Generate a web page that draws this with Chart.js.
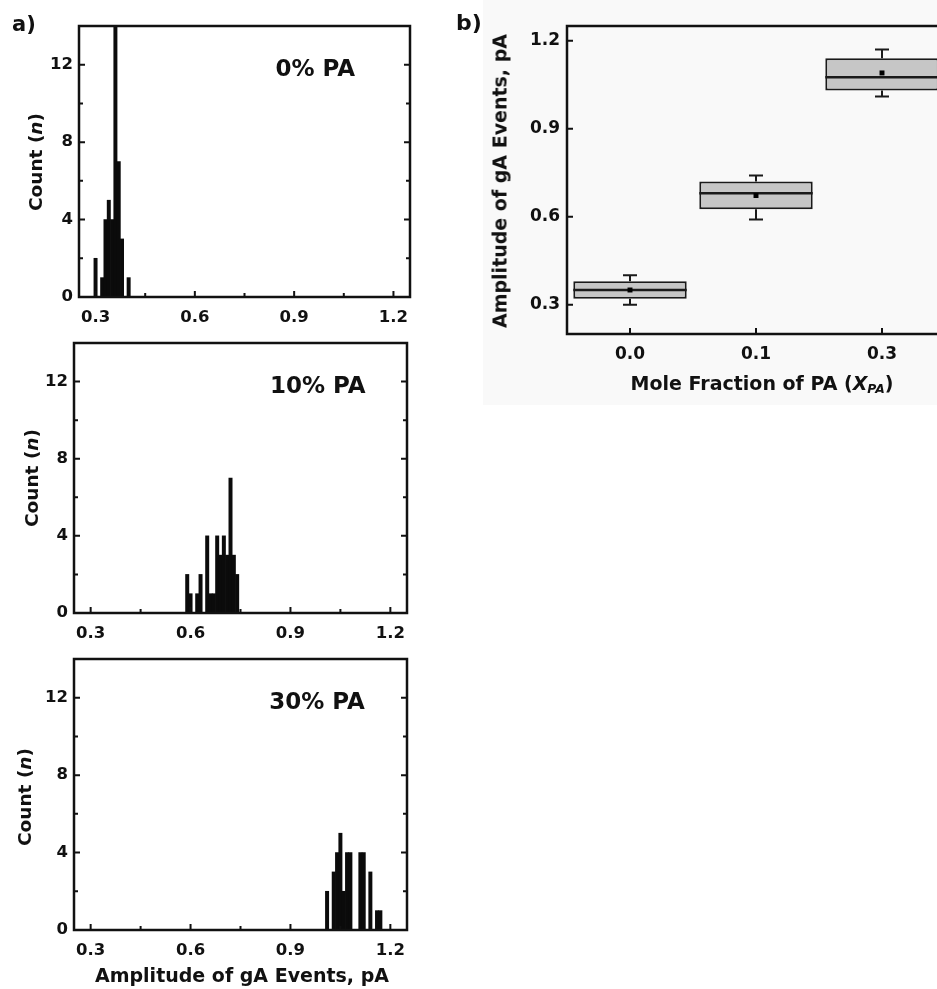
<!DOCTYPE html>
<html>
<head>
<meta charset="utf-8">
<script src="https://cdn.jsdelivr.net/npm/chart.js@4.4.1/dist/chart.umd.min.js"></script>
<style>
  html, body { margin: 0; padding: 0; background: #fff; overflow: hidden; }
  body { width: 937px; height: 989px; position: relative; font-family: 'DejaVu Sans', sans-serif; font-weight: bold; color: #111; }
  .wrap { position: absolute; }
  .lbl { position: absolute; white-space: nowrap; line-height: 1; }
  .ctr { transform: translate(-50%, -50%); }
  .rot { transform: translate(-50%, -50%) rotate(-90deg); }
  sub { font-size: 0.65em; vertical-align: -0.25em; line-height: 0; }
  #panelB { position: absolute; left: 483px; top: 0; width: 454px; height: 405px; background: #f9f9f9; }
</style>
</head>
<body>
<div id="panelB"></div>

<div class="wrap" style="left:0;top:0;width:430px;height:340px"><canvas id="hist0"></canvas></div>
<div class="wrap" style="left:0;top:317px;width:430px;height:339px"><canvas id="hist10"></canvas></div>
<div class="wrap" style="left:0;top:633px;width:430px;height:340px"><canvas id="hist30"></canvas></div>
<div class="wrap" style="left:440px;top:0;width:510px;height:410px"><canvas id="boxes"></canvas></div>

<div class="lbl" style="left:12px;top:14px;font-size:21px">a)</div>
<div class="lbl" style="left:456px;top:12px;font-size:22px">b)</div>

<div class="lbl rot" style="left:36px;top:162px;font-size:18.5px">Count (<i>n</i>)</div>
<div class="lbl rot" style="left:32px;top:478px;font-size:18.5px">Count (<i>n</i>)</div>
<div class="lbl rot" style="left:25px;top:797px;font-size:18.5px">Count (<i>n</i>)</div>
<div class="lbl ctr" style="left:242px;top:975px;font-size:19px">Amplitude of gA Events, pA</div>

<div class="lbl rot" style="left:500px;top:181px;font-size:19px">Amplitude of gA Events, pA</div>
<div class="lbl ctr" style="left:762px;top:383px;font-size:19px">Mole Fraction of PA (<i>X<sub>PA</sub></i>)</div>

<script>
Chart.defaults.font.family = "'DejaVu Sans', sans-serif";
Chart.defaults.font.weight = 'bold';
Chart.defaults.color = '#111';
Chart.defaults.animation = false;

// amplitude histograms: bin centres (pA) and event counts
const bins0 = [0.30, 0.31, 0.32, 0.33, 0.34, 0.35, 0.36, 0.37, 0.38, 0.39, 0.40];
const counts0 = [2, 0, 1, 4, 5, 4, 14, 7, 3, 0, 1];

const bins10 = [0.59, 0.60, 0.61, 0.62, 0.63, 0.64, 0.65, 0.66, 0.67, 0.68, 0.69, 0.70, 0.71, 0.72, 0.73, 0.74];
const counts10 = [2, 1, 0, 1, 2, 0, 4, 1, 1, 4, 3, 4, 3, 7, 3, 2];

const bins30 = [1.01, 1.02, 1.03, 1.04, 1.05, 1.06, 1.07, 1.08, 1.09, 1.10, 1.11, 1.12, 1.13, 1.14, 1.15, 1.16, 1.17];
const counts30 = [2, 0, 3, 4, 5, 2, 4, 4, 0, 0, 4, 4, 0, 3, 0, 1, 1];

const ampTicks = [0.3, 0.6, 0.9, 1.2];
const ampMinor = [0.45, 0.75, 1.05];
const countTicks = [0, 4, 8, 12];
const countMinor = [2, 6, 10];

// amplitude summary per PA mole fraction
const moleFractions = ['0.0', '0.1', '0.3'];
const ampMin = [0.30, 0.59, 1.01];
const ampQ1 = [0.32, 0.625, 1.03];
const ampMedian = [0.35, 0.68, 1.075];
const ampMean = [0.35, 0.672, 1.09];
const ampQ3 = [0.38, 0.72, 1.14];
const ampMax = [0.40, 0.74, 1.17];
const boxTicks = [0.3, 0.6, 0.9, 1.2];

// closed frame, inward tick marks and an in-plot caption
const framePlugin = {
  id: 'frame',
  afterDraw(chart, args, opts) {
    const { ctx, chartArea: a } = chart;
    const xs = chart.scales.x, ys = chart.scales.y;
    ctx.save();
    ctx.strokeStyle = '#111';
    ctx.lineWidth = 2.5;
    ctx.strokeRect(a.left, a.top, a.right - a.left, a.bottom - a.top);

    ctx.lineWidth = 2;
    ctx.beginPath();
    const xMark = (v, len) => {
      const p = xs.getPixelForValue(v);
      ctx.moveTo(p, a.bottom); ctx.lineTo(p, a.bottom - len);
    };
    const yMark = (v, len) => {
      const p = ys.getPixelForValue(v);
      ctx.moveTo(a.left, p); ctx.lineTo(a.left + len, p);
      if (opts.rightTicks) { ctx.moveTo(a.right, p); ctx.lineTo(a.right - len, p); }
    };
    (opts.xMajor || []).forEach(v => xMark(v, 6));
    (opts.xMinor || []).forEach(v => xMark(v, 4));
    (opts.yMajor || []).forEach(v => yMark(v, 6));
    (opts.yMinor || []).forEach(v => yMark(v, 4));
    ctx.stroke();

    if (opts.caption) {
      ctx.fillStyle = '#111';
      ctx.font = "bold 23px 'DejaVu Sans', sans-serif";
      ctx.textAlign = 'center';
      ctx.textBaseline = 'alphabetic';
      ctx.fillText(opts.caption, a.left + opts.captionAt * (a.right - a.left), a.top + 50);
    }
    ctx.restore();
  }
};

function histogram(id, bins, counts, caption, captionAt, leftWidth, rightPad) {
  return new Chart(document.getElementById(id), {
    type: 'bar',
    data: {
      datasets: [{
        data: bins.map((b, i) => ({ x: b, y: counts[i] })),
        backgroundColor: '#0b0b0b',
        barPercentage: 1,
        categoryPercentage: 1
      }]
    },
    options: {
      responsive: true,
      maintainAspectRatio: false,
      layout: { padding: { top: 26, right: rightPad, left: 0, bottom: 0 } },
      plugins: {
        legend: { display: false },
        tooltip: { enabled: false },
        frame: {
          caption: caption, captionAt: captionAt,
          xMajor: ampTicks, xMinor: ampMinor,
          yMajor: countTicks.slice(1), yMinor: countMinor, rightTicks: true
        }
      },
      scales: {
        x: {
          type: 'linear', min: 0.25, max: 1.25, offset: false,
          grid: { display: false, drawTicks: false },
          border: { display: false },
          afterBuildTicks: s => { s.ticks = ampTicks.map(v => ({ value: v })); },
          afterFit: s => { s.height = 43; },
          ticks: { padding: 11, font: { size: 16.5 }, maxRotation: 0, autoSkip: false, callback: v => v.toFixed(1) }
        },
        y: {
          min: 0, max: 14,
          grid: { display: false, drawTicks: false },
          border: { display: false },
          afterBuildTicks: s => { s.ticks = countTicks.map(v => ({ value: v })); },
          afterFit: s => { s.width = leftWidth; },
          ticks: { padding: 6, font: { size: 16.5 }, callback: v => String(v) }
        }
      }
    },
    plugins: [framePlugin]
  });
}

histogram('hist0', bins0, counts0, '0% PA', 0.714, 79, 20);
histogram('hist10', bins10, counts10, '10% PA', 0.732, 74, 23);
histogram('hist30', bins30, counts30, '30% PA', 0.73, 74, 23);

// whiskers and median drawn right after the boxes
const whiskerPlugin = {
  id: 'whiskers',
  afterDatasetDraw(chart, args) {
    if (args.meta.type !== 'bar') return;
    const { ctx } = chart;
    const ys = chart.scales.y;
    ctx.save();
    ctx.strokeStyle = '#1a1a1a';
    args.meta.data.forEach((bar, i) => {
      const { x, width } = bar.getProps(['x', 'width'], true);
      const half = width / 2;
      const cap = 7;
      const pMin = ys.getPixelForValue(ampMin[i]);
      const pQ1 = ys.getPixelForValue(ampQ1[i]);
      const pQ3 = ys.getPixelForValue(ampQ3[i]);
      const pMax = ys.getPixelForValue(ampMax[i]);
      const pMed = ys.getPixelForValue(ampMedian[i]);
      ctx.lineWidth = 2;
      ctx.beginPath();
      ctx.moveTo(x, pQ3); ctx.lineTo(x, pMax);
      ctx.moveTo(x - cap, pMax); ctx.lineTo(x + cap, pMax);
      ctx.moveTo(x, pQ1); ctx.lineTo(x, pMin);
      ctx.moveTo(x - cap, pMin); ctx.lineTo(x + cap, pMin);
      ctx.stroke();
      ctx.lineWidth = 2.5;
      ctx.beginPath();
      ctx.moveTo(x - half, pMed); ctx.lineTo(x + half, pMed);
      ctx.stroke();
    });
    ctx.restore();
  }
};

new Chart(document.getElementById('boxes'), {
  type: 'bar',
  data: {
    labels: moleFractions,
    datasets: [
      {
        type: 'line',
        data: ampMean,
        showLine: false,
        pointStyle: 'rect',
        pointRadius: 3.5,
        pointBackgroundColor: '#000',
        pointBorderColor: '#000',
        pointBorderWidth: 0,
        order: 1
      },
      {
        type: 'bar',
        data: moleFractions.map((_, i) => [ampQ1[i], ampQ3[i]]),
        backgroundColor: '#c6c6c6',
        borderColor: '#1a1a1a',
        borderWidth: 2,
        borderSkipped: false,
        barPercentage: 1,
        categoryPercentage: 0.9,
        order: 2
      }
    ]
  },
  options: {
    responsive: true,
    maintainAspectRatio: false,
    layout: { padding: { top: 26, right: 5, left: 0, bottom: 0 } },
    plugins: {
      legend: { display: false },
      tooltip: { enabled: false },
      frame: { xMajor: [0, 1, 2], yMajor: boxTicks, rightTicks: false }
    },
    scales: {
      x: {
        grid: { display: false, drawTicks: false },
        border: { display: false },
        afterFit: s => { s.height = 76; },
        ticks: { padding: 10, font: { size: 17 } }
      },
      y: {
        min: 0.2, max: 1.25,
        grid: { display: false, drawTicks: false },
        border: { display: false },
        afterBuildTicks: s => { s.ticks = boxTicks.map(v => ({ value: v })); },
        afterFit: s => { s.width = 127; },
        ticks: { padding: 7, font: { size: 17 }, callback: v => v.toFixed(1) }
      }
    }
  },
  plugins: [whiskerPlugin, framePlugin]
});
</script>
</body>
</html>
